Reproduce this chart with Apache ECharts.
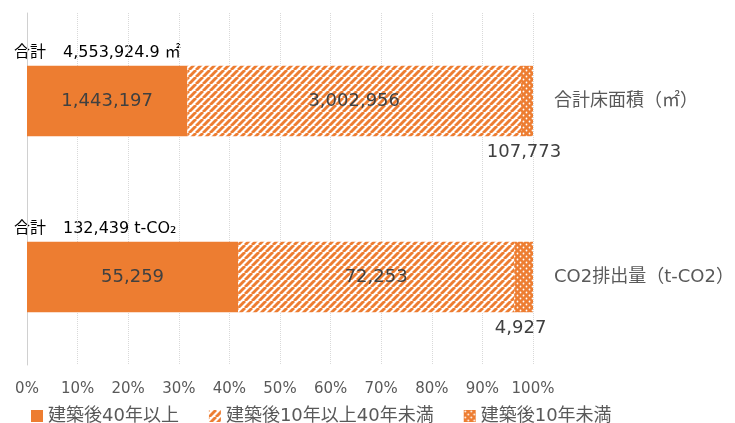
<!DOCTYPE html>
<html>
<head>
<meta charset="utf-8">
<script src="https://cdn.jsdelivr.net/npm/echarts@6/dist/echarts.min.js"></script>
<style>
  html, body { margin: 0; padding: 0; background: #fff; }
  #chart { width: 735px; height: 423px; }
</style>
</head>
<body>
<div id="chart"></div>
<script>
  // カテゴリ（上から）
  const categories = ['合計床面積（㎡）', 'CO2排出量（t-CO2）']
  const totalLabels = ['4,553,924.9 ㎡', '132,439 t-CO₂']
  // 系列ごとの値
  const seriesNames = ['建築後40年以上', '建築後10年以上40年未満', '建築後10年未満']
  const over40 = [1443197, 55259]
  const from10to40 = [3002956, 72253]
  const under10 = [107773, 4927]
  const xTicks = [0, 10, 20, 30, 40, 50, 60, 70, 80, 90, 100]

  const ORANGE = '#ED7D31'
  const FONT = '"DejaVu Sans", "Noto Sans CJK JP", sans-serif'

  // 斜線パターン
  function stripePattern () {
    const n = 7
    const c = document.createElement('canvas')
    c.width = n; c.height = n
    const ctx = c.getContext('2d')
    ctx.fillStyle = '#fff'
    ctx.fillRect(0, 0, n, n)
    ctx.strokeStyle = ORANGE
    ctx.lineWidth = 2.9
    for (const k of [0, n, 2 * n]) {
      ctx.beginPath()
      ctx.moveTo(k, 0)
      ctx.lineTo(k - n, n)
      ctx.stroke()
    }
    return { image: c, repeat: 'repeat' }
  }
  // ドットパターン
  function dotPattern () {
    const c = document.createElement('canvas')
    c.width = 6; c.height = 6
    const ctx = c.getContext('2d')
    ctx.fillStyle = ORANGE
    ctx.fillRect(0, 0, 6, 6)
    ctx.fillStyle = '#fff'
    for (const p of [[1.5, 1.5], [4.5, 4.5]]) {
      ctx.beginPath()
      ctx.arc(p[0], p[1], 0.9, 0, Math.PI * 2)
      ctx.fill()
    }
    return { image: c, repeat: 'repeat' }
  }

  const totals = categories.map((_, i) => over40[i] + from10to40[i] + under10[i])
  const pct = arr => arr.map((v, i) => v / totals[i] * 100)
  const fmt = n => n.toLocaleString('en-US')

  const raw = [over40, from10to40, under10]
  const colors = [ORANGE, stripePattern(), dotPattern()]

  const series = raw.map((arr, s) => ({
    name: seriesNames[s],
    type: 'bar',
    stack: 'total',
    barWidth: '40%',
    itemStyle: { color: colors[s] },
    label: {
      show: true,
      position: s === 2 ? 'bottom' : 'inside',
      distance: 7,
      offset: s === 2 ? [-3, 0] : [0, 0],
      color: '#404040',
      fontSize: 18,
      fontFamily: FONT,
      formatter: p => fmt(arr[p.dataIndex])
    },
    data: pct(arr)
  }))

  const chart = echarts.init(document.getElementById('chart'))
  chart.setOption({
    animation: false,
    textStyle: { fontFamily: FONT },
    grid: { left: 27, right: 202, top: 13, bottom: 58, outerBoundsMode: 'none' },
    legend: {
      data: seriesNames,
      left: 26,
      top: 402,
      icon: 'rect',
      itemWidth: 12,
      itemHeight: 12,
      itemGap: 30,
      textStyle: { fontSize: 18, color: '#595959', fontFamily: FONT }
    },
    xAxis: {
      type: 'value',
      min: xTicks[0],
      max: xTicks[xTicks.length - 1],
      interval: 10,
      axisLine: { show: false },
      axisTick: { show: false },
      splitLine: { lineStyle: { color: '#d9d9d9', type: 'dotted' } },
      axisLabel: { formatter: '{value}%', fontSize: 15, color: '#595959', margin: 17, fontFamily: FONT }
    },
    yAxis: {
      type: 'category',
      data: categories,
      inverse: true,
      position: 'right',
      axisLine: { show: true, lineStyle: { color: '#d0d0d0' } },
      axisTick: { show: false },
      axisLabel: { fontSize: 18, color: '#595959', margin: 21, fontFamily: FONT }
    },
    graphic: totalLabels.map((t, i) => ({
      type: 'text',
      left: 14,
      top: i === 0 ? 45 : 221,
      style: {
        text: '{k|合計}{v|' + t + '}',
        rich: {
          k: { width: 49, fontSize: 16, fill: '#000', fontFamily: FONT },
          v: { fontSize: 16, fill: '#000', fontFamily: FONT }
        }
      }
    })),
    series: series
  })
</script>
</body>
</html>
